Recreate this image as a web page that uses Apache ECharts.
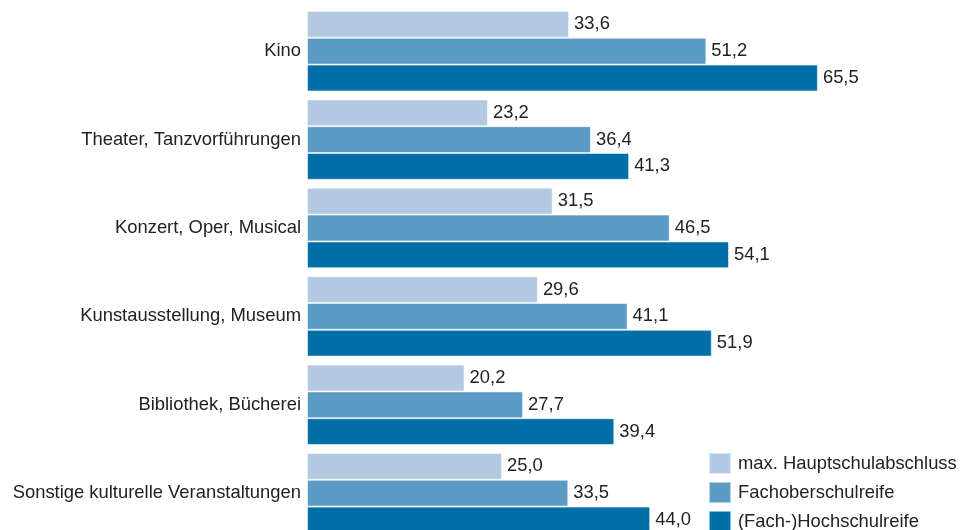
<!DOCTYPE html>
<html>
<head>
<meta charset="utf-8">
<script src="https://cdn.jsdelivr.net/npm/echarts@6/dist/echarts.min.js"></script>
<style>
html,body{margin:0;padding:0;background:#fff;}
#chart{width:960px;height:530px;}
</style>
</head>
<body>
<div id="chart"></div>
<script>
const categories = ["Kino", "Theater, Tanzvorführungen", "Konzert, Oper, Musical", "Kunstausstellung, Museum", "Bibliothek, Bücherei", "Sonstige kulturelle Veranstaltungen"];
const seriesNames = ["max. Hauptschulabschluss", "Fachoberschulreife", "(Fach-)Hochschulreife"];
const hauptschul = [33.6, 23.2, 31.5, 29.6, 20.2, 25.0];
const fachober = [51.2, 36.4, 46.5, 41.1, 27.7, 33.5];
const hochschul = [65.5, 41.3, 54.1, 51.9, 39.4, 44.0];
const colors = ["#b3c9e2", "#5b9bc6", "#006fa7"];

const font = "'Liberation Sans', Arial, sans-serif";
const fs = 18.4;
const fmt = p => p.value.toFixed(1).replace('.', ',');

function mk(name, data, color) {
  return {
    name: name,
    type: 'bar',
    data: data,
    barGap: '0%',
    barCategoryGap: '9%',
    itemStyle: { color: color, borderColor: 'rgba(255,255,255,0.55)', borderWidth: 1 },
    label: {
      show: true, position: 'right', distance: 5,
      formatter: fmt, color: '#222', fontSize: fs, fontFamily: font
    },
    emphasis: { disabled: true },
    animation: false
  };
}

const chart = echarts.init(document.getElementById('chart'), null, { renderer: 'canvas' });
chart.setOption({
  animation: false,
  grid: { left: 307, width: 624, top: 7, height: 530.4, outerBoundsMode: 'none', containLabel: false },
  xAxis: { type: 'value', min: 0, max: 80, show: false },
  yAxis: {
    type: 'category', data: categories, inverse: true,
    axisLine: { show: false }, axisTick: { show: false },
    axisLabel: { color: '#222', fontSize: fs, fontFamily: font, margin: 6 }
  },
  legend: {
    orient: 'vertical', left: 708, top: 452, height: 120, padding: 0,
    itemWidth: 22, itemHeight: 21, itemGap: 6,
    icon: 'rect',
    textStyle: { color: '#222', fontSize: fs, fontFamily: font, padding: [0, 0, 0, 2] },
    data: seriesNames
  },
  series: [
    mk(seriesNames[0], hauptschul, colors[0]),
    mk(seriesNames[1], fachober, colors[1]),
    mk(seriesNames[2], hochschul, colors[2])
  ]
});
</script>
</body>
</html>
